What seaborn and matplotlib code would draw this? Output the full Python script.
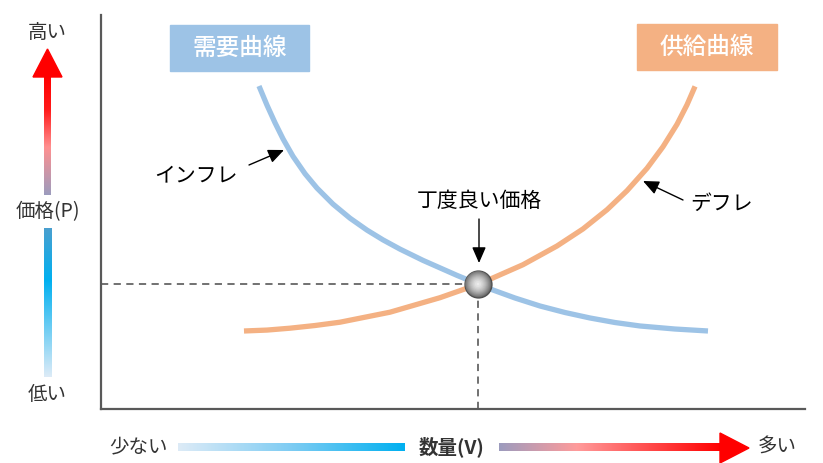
import numpy as np
import pandas as pd
import matplotlib
matplotlib.use('Agg')
import matplotlib.pyplot as plt
import seaborn as sns
from matplotlib.colors import LinearSegmentedColormap
from matplotlib.patches import Rectangle, Polygon

sns.set_theme(style='white')
plt.rcParams['font.family'] = ['Noto Sans CJK JP', 'DejaVu Sans']

# curve points (quantity, price on a 0-10 scale)
demand_q = [2.244, 2.358, 2.472, 2.585, 2.727, 2.898, 3.068, 3.295, 3.537, 3.778,
            4.006, 4.247, 4.574, 5.057, 5.355, 5.568, 5.881, 6.236, 6.591, 6.946,
            7.301, 7.656, 8.153, 8.622]
demand_p = [8.198, 7.711, 7.264, 6.858, 6.414, 5.972, 5.607, 5.201, 4.843, 4.541,
            4.292, 4.058, 3.772, 3.391, 3.173, 3.020, 2.817, 2.614, 2.449, 2.310,
            2.195, 2.107, 2.030, 1.980]
supply_q = [2.031, 2.358, 2.685, 3.040, 3.395, 4.105, 4.815, 5.199, 5.355, 5.568,
            5.994, 6.477, 6.847, 7.188, 7.472, 7.756, 7.983, 8.182, 8.324, 8.438]
supply_p = [1.980, 2.003, 2.051, 2.119, 2.203, 2.457, 2.825, 3.066, 3.173, 3.327,
            3.662, 4.137, 4.571, 5.058, 5.541, 6.109, 6.657, 7.226, 7.721, 8.188]
eq_q = 5.355
eq_p = 3.173

demand = pd.DataFrame({'q': demand_q, 'p': demand_p})
supply = pd.DataFrame({'q': supply_q, 'p': supply_p})

W, H = 823, 463
fig = plt.figure(figsize=(W / 100, H / 100), dpi=100)
fig.patch.set_facecolor('white')

# main plot area
ax = fig.add_axes([101 / W, (H - 409) / H, (805 - 101) / W, (409 - 15) / H])
ax.set_xlim(0, 10)
ax.set_ylim(0, 10)
ax.set_facecolor('white')
for s in ['top', 'right']:
    ax.spines[s].set_visible(False)
for s in ['left', 'bottom']:
    ax.spines[s].set_color('#595959')
    ax.spines[s].set_linewidth(1.6)
ax.set_xticks([])
ax.set_yticks([])

sns.lineplot(data=demand, x='q', y='p', sort=False, estimator=None, ax=ax,
             color='#9DC3E6', linewidth=3.8, solid_capstyle='butt',
             solid_joinstyle='round')
sns.lineplot(data=supply, x='q', y='p', sort=False, estimator=None, ax=ax,
             color='#F4B183', linewidth=3.8, solid_capstyle='butt',
             solid_joinstyle='round')
ax.set_xlabel('')
ax.set_ylabel('')

# dashed guide lines
ax.plot([0, eq_q], [eq_p, eq_p], color='#666666', lw=1.3, ls=(0, (4, 3)), zorder=1)
ax.plot([eq_q, eq_q], [0, eq_p], color='#666666', lw=1.3, ls=(0, (4, 3)), zorder=1)

# equilibrium ball: radial grey shading
n_layers = 14
for i in range(n_layers):
    t = i / (n_layers - 1)
    size = 370 * (1 - t) ** 1.2 + 4
    g = 0.42 + 0.5 * t
    ec = '#505050' if i == 0 else 'none'
    ax.scatter([eq_q], [eq_p], s=size, color=(g, g, g), edgecolors=ec,
               linewidths=1.0, zorder=5 + i)

# overlay in pixel coordinates for labels and gradient arrows
ov = fig.add_axes([0, 0, 1, 1])
ov.patch.set_alpha(0)
ov.axis('off')


def grad_bar(x0, x1, y0, y1, colors, vertical):
    cmap = LinearSegmentedColormap.from_list('g', colors)
    v = np.linspace(0, 1, 256)
    arr = v.reshape(-1, 1) if vertical else v.reshape(1, -1)
    ov.imshow(arr, cmap=cmap, aspect='auto', extent=(x0, x1, y1, y0),
              interpolation='bilinear', zorder=2)


# vertical price arrow
grad_bar(44.5, 51.5, 76, 195,
         [(0, '#FF0000'), (0.28, '#FF1A1A'), (0.6, '#FF9090'), (1, '#9C9CBE')], True)
ov.add_patch(Polygon([[33, 77], [62, 77], [47.5, 49]], closed=True,
                     color='#FF0000', zorder=3))
grad_bar(44, 52, 228, 377,
         [(0, '#4A9FCF'), (0.35, '#00B0F0'), (1, '#DDEBF7')], True)

# horizontal quantity arrow
grad_bar(178, 405, 443.5, 451.5,
         [(0, '#DDEBF7'), (0.5, '#7ECCF3'), (1, '#00B0F0')], False)
grad_bar(499, 722, 443.5, 451.5,
         [(0, '#9C9CBE'), (0.35, '#FF9B9B'), (0.7, '#FF4545'), (1, '#FF0000')], False)
ov.add_patch(Polygon([[720, 433], [720, 463], [749, 448]], closed=True,
                     color='#FF0000', zorder=3))

ov.set_xlim(0, W)
ov.set_ylim(H, 0)

axis_txt = dict(fontsize=14, color='#333333', ha='center', va='center')
ov.text(47, 33, '高い', **axis_txt)
ov.text(48, 212, '価格(P)', **axis_txt)
ov.text(47, 395, '低い', **axis_txt)
ov.text(138, 447, '少ない', **axis_txt)
ov.text(452, 447, '数量(V)', fontweight='bold', fontsize=14, color='#333333',
        ha='center', va='center')
ov.text(777, 447, '多い', **axis_txt)

# curve name boxes
ov.add_patch(Rectangle((170, 25), 139, 46, color='#9DC3E6', zorder=3))
ov.text(239.5, 48, '需要曲線', fontsize=17, color='white', fontweight='medium',
        ha='center', va='center', zorder=4)
ov.add_patch(Rectangle((637, 24), 140, 46, color='#F4B183', zorder=3))
ov.text(707, 47, '供給曲線', fontsize=17, color='white', fontweight='medium',
        ha='center', va='center', zorder=4)

# annotations
arrow = dict(arrowstyle='-|>,head_length=0.8,head_width=0.35', color='black', lw=1.0,
             shrinkA=0, shrinkB=0)
ov.annotate('', xy=(284, 150), xytext=(249, 165), arrowprops=arrow)
ov.text(196, 175, 'インフレ', fontsize=15, color='black', ha='center', va='center')
ov.annotate('', xy=(479, 263), xytext=(479, 219), arrowprops=arrow)
ov.text(479, 201, '丁度良い価格', fontsize=15, color='black', ha='center', va='center')
ov.annotate('', xy=(643, 181), xytext=(683, 200), arrowprops=arrow)
ov.text(722, 204, 'デフレ', fontsize=15, color='black', ha='center', va='center')

fig.savefig('out.png', dpi=100)
